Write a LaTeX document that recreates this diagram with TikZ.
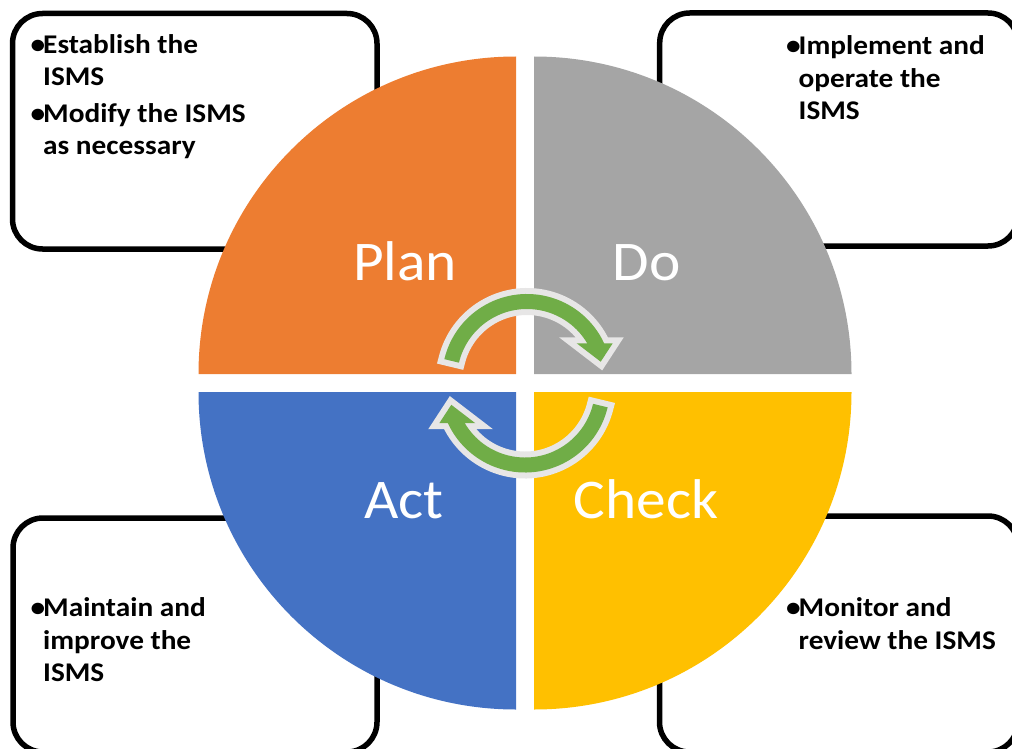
\documentclass[tikz,border=0pt]{standalone}
\usepackage{fontspec}
\setmainfont{Carlito}
\newfontfamily\boxfont{Carlito}[FakeStretch=1.085]
\newfontfamily\lblfont{Carlito}[FakeStretch=1.06]
\definecolor{plancol}{HTML}{ED7D31}
\definecolor{docol}{HTML}{A5A5A5}
\definecolor{actcol}{HTML}{4472C4}
\definecolor{checkcol}{HTML}{FFC000}
\definecolor{arrowgreen}{HTML}{70AD47}
\definecolor{arrowedge}{HTML}{E7E6E6}
\newcommand\bul{\makebox[12.5pt][l]{\textbullet}}
\tikzset{
  infobox/.style={draw=black, line width=5.5pt, rounded corners=30pt, fill=white, rectangle, inner sep=0pt},
  boxtext/.style={anchor=base west, inner sep=0pt, font=\boxfont\fontsize{27}{32.5}\selectfont\bfseries, text=black},
  lbl/.style={anchor=base, inner sep=0pt, font=\lblfont\fontsize{56}{60}\selectfont, text=white},
  cyclearrow/.style={fill=arrowgreen, preaction={draw=arrowedge, line width=12pt, line join=miter}}
}
\begin{document}
\begin{tikzpicture}[x=1pt,y=-1pt]
\useasboundingbox (0,0) rectangle (1012,749);
\clip (0,0) rectangle (1012,749);
% boxes
\node[infobox, minimum width=364.5pt, minimum height=235.5pt] (tlbox) at (194.75,131.25) {};
\node[infobox, minimum width=358.3pt, minimum height=233pt] (trbox) at (838.85,129.5) {};
\node[infobox, minimum width=364pt, minimum height=234pt] (blbox) at (195,635) {};
\node[infobox, minimum width=358.5pt, minimum height=236pt] (brbox) at (838.75,634) {};
% sectors
\fill[plancol] (516,374) -- (198.5,374) arc[start angle=180, end angle=270, radius=317.5] -- cycle;
\fill[docol] (534,374) -- (534,56.5) arc[start angle=270, end angle=360, radius=317.5] -- cycle;
\fill[actcol] (516,392) -- (516,709.5) arc[start angle=90, end angle=180, radius=317.5] -- cycle;
\fill[checkcol] (534,392) -- (851.5,392) arc[start angle=0, end angle=90, radius=317.5] -- cycle;
% labels
\node[lbl] (plan) at (405,280) {Plan};
\node[lbl] (do) at (646.5,280) {Do};
\node[lbl] (act) at (404,518) {Act};
\node[lbl] (check) at (646,518) {Check};
% arrows
\coordinate (ca) at (527,379);
\path[cyclearrow] ([shift={(ca)}]193.5:85) arc[start angle=193.5, end angle=335.16, radius=85]
  -- (612.7,343.3) -- (600.7,361.7) -- (576.7,343.3)
  -- ([shift={(ca)}]329.34:70) arc[start angle=329.34, end angle=193.5, radius=70] -- cycle;
\begin{scope}[rotate around={180:(526,383.25)}]
\path[cyclearrow] ([shift={(ca)}]193.5:85) arc[start angle=193.5, end angle=335.16, radius=85]
  -- (612.7,343.3) -- (600.7,361.7) -- (576.7,343.3)
  -- ([shift={(ca)}]329.34:70) arc[start angle=329.34, end angle=193.5, radius=70] -- cycle;
\end{scope}
% box texts
\node[boxtext] (tltext) at (30.5,53.3) {\begin{tabular}[t]{@{}l@{}l@{}}\bul & Establish the\\ & ISMS\\[4pt] \bul & Modify the ISMS\\ & as necessary\end{tabular}};
\node[boxtext] (trtext) at (786,55) {\begin{tabular}[t]{@{}l@{}l@{}}\bul & Implement and\\ & operate the\\ & ISMS\end{tabular}};
\node[boxtext] (bltext) at (30.5,616.7) {\begin{tabular}[t]{@{}l@{}l@{}}\bul & Maintain and\\ & improve the\\ & ISMS\end{tabular}};
\node[boxtext] (brtext) at (786,616.7) {\begin{tabular}[t]{@{}l@{}l@{}}\bul & Monitor and\\ & review the ISMS\end{tabular}};
\end{tikzpicture}
\end{document}
